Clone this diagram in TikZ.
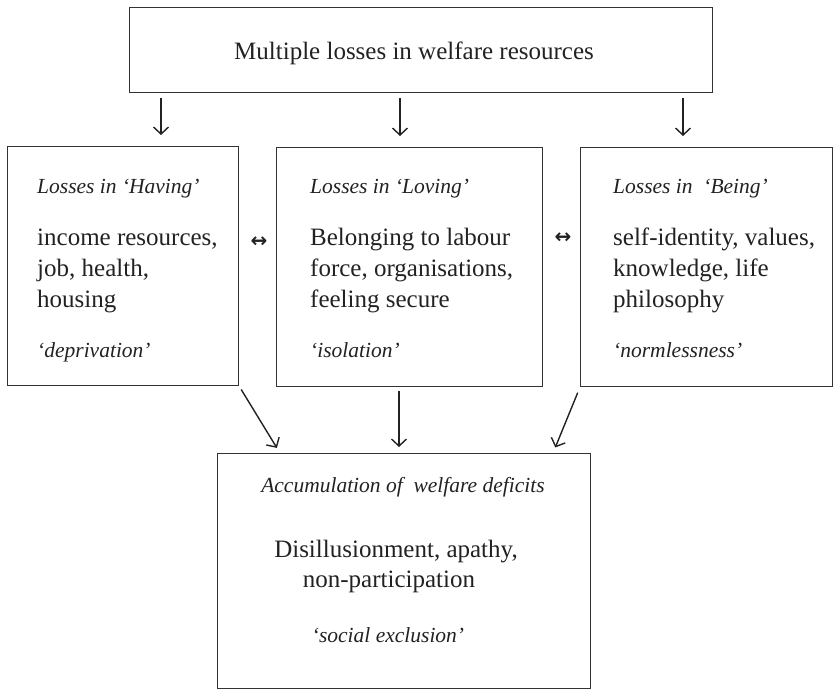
\documentclass[tikz,border=0pt]{standalone}
\usepackage{fontspec}
\setmainfont{Liberation Serif}
\newfontfamily\symfont{DejaVu Sans}
\usetikzlibrary{arrows.meta}
\definecolor{ink}{HTML}{222222}
\definecolor{edge}{HTML}{333333}
\begin{document}
\begin{tikzpicture}[x=1pt,y=-1pt,
  box/.style={draw=edge, line width=1.1pt, rectangle, inner sep=0pt, anchor=north west},
  hd/.style={font=\fontsize{21.5}{26}\selectfont\itshape, text=ink, anchor=base west, inner sep=0pt},
  bd/.style={font=\fontsize{25}{30}\selectfont, text=ink, anchor=base west, inner sep=0pt},
  hdc/.style={hd, anchor=base},
  bdc/.style={bd, anchor=base},
  arr/.style={draw=ink, line width=1.4pt, -{Straight Barb[length=7pt,width=15pt,line width=1.4pt]}},
  sym/.style={font=\symfont\bfseries\fontsize{20}{24}\selectfont, text=ink, inner sep=0pt}]
\useasboundingbox (0,0) rectangle (834,690);

% boxes
\node[box, minimum width=583, minimum height=85] (top) at (129,7) {};
\node[box, minimum width=231, minimum height=239] (having) at (7,146) {};
\node[box, minimum width=266, minimum height=239] (loving) at (276,147) {};
\node[box, minimum width=252, minimum height=239] (being) at (580,147) {};
\node[box, minimum width=373, minimum height=235] (bottom) at (217,453) {};

% top text
\node[bdc] (ttl) at (414,60) {Multiple losses in welfare resources};

% having
\node[hd] (h1) at (37,193) {Losses in ‘Having’};
\node[bd] (h2) at (37,245) {income resources,};
\node[bd] (h3) at (37,276) {job, health,};
\node[bd] (h4) at (37,307) {housing};
\node[hd] (h5) at (37,357) {‘deprivation’};

% loving
\node[hd] (l1) at (310,193) {Losses in ‘Loving’};
\node[bd] (l2) at (310,245) {Belonging to labour};
\node[bd] (l3) at (310,276) {force, organisations,};
\node[bd] (l4) at (310,307) {feeling secure};
\node[hd] (l5) at (310,357) {‘isolation’};

% being
\node[hd] (b1) at (613,193) {Losses in \ ‘Being’};
\node[bd] (b2) at (613,245) {self-identity, values,};
\node[bd] (b3) at (613,276) {knowledge, life};
\node[bd] (b4) at (613,307) {philosophy};
\node[hd] (b5) at (613,357) {‘normlessness’};

% bottom
\node[hdc] (a1) at (403,492) {Accumulation of \ welfare deficits};
\node[bdc] (a2) at (396,557) {Disillusionment, apathy,};
\node[bdc] (a3) at (389,587) {non-participation};
\node[hdc] (a4) at (388,642) {‘social exclusion’};

% double arrows
\node[sym] (d1) at (259,242) {↔};
\node[sym] (d2) at (563,238) {↔};

% top arrows
\draw[arr, shorten <=5pt, shorten >=11pt] (161,0 |- top.south) -- (161,0 |- having.north);
\draw[arr, shorten <=5pt, shorten >=11pt] (400,0 |- top.south) -- (400,0 |- loving.north);
\draw[arr, shorten <=5pt, shorten >=11pt] (683,0 |- top.south) -- (683,0 |- being.north);

% bottom arrows
\draw[arr, shorten <=4pt, shorten >=6pt] (having.south east) -- (280,0 |- bottom.north);
\draw[arr, shorten <=4pt, shorten >=6pt] (399,0 |- loving.south) -- (399,0 |- bottom.north);
\draw[arr, shorten <=6pt, shorten >=6pt] (being.south west) -- (553,0 |- bottom.north);
\end{tikzpicture}
\end{document}
